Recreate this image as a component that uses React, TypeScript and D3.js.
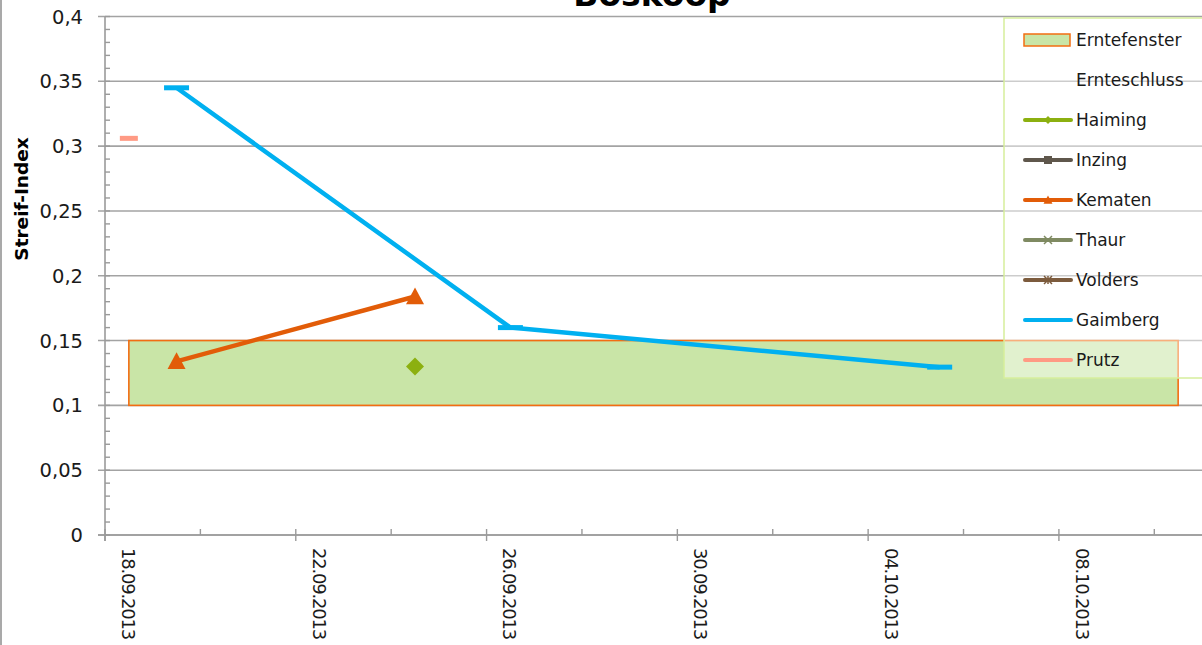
import React from 'react';
import * as d3 from 'd3';

// Streif-Index Boskoop, Excel-Export nachgebaut
const parseDate = d3.timeParse('%d.%m.%Y');
const fmtDate = d3.timeFormat('%d.%m.%Y');

const axisStart = '18.09.2013';
const axisEnd = '11.10.2013';
const yTickValues = [0, 0.05, 0.1, 0.15, 0.2, 0.25, 0.3, 0.35, 0.4];

const ernteFensterDates = ['18.09.2013', '10.10.2013'];
const ernteFensterValues = [0.1, 0.15];

const haimingDates = ['24.09.2013'];
const haimingValues = [0.13];
const inzingDates: string[] = [];
const inzingValues: number[] = [];
const kematenDates = ['19.09.2013', '24.09.2013'];
const kematenValues = [0.134, 0.184];
const thaurDates: string[] = [];
const thaurValues: number[] = [];
const voldersDates: string[] = [];
const voldersValues: number[] = [];
const gaimbergDates = ['19.09.2013', '26.09.2013', '05.10.2013'];
const gaimbergValues = [0.345, 0.16, 0.1295];
const prutzDates = ['18.09.2013'];
const prutzValues = [0.306];

const legendNames = ['Erntefenster', 'Ernteschluss', 'Haiming', 'Inzing', 'Kematen', 'Thaur', 'Volders', 'Gaimberg', 'Prutz'];

const FONT = '"DejaVu Sans", sans-serif';
const W = 1202;
const H = 645;
const left = 105;
const top = 16.5;
const bottom = 535;
const halfDay = 12 * 3600 * 1000;

const series = [
  { name: 'Haiming', dates: haimingDates, values: haimingValues, color: '#8cb010', marker: 'diamond' },
  { name: 'Inzing', dates: inzingDates, values: inzingValues, color: '#5f574c', marker: 'square' },
  { name: 'Kematen', dates: kematenDates, values: kematenValues, color: '#e25c08', marker: 'triangle' },
  { name: 'Thaur', dates: thaurDates, values: thaurValues, color: '#7f8a62', marker: 'x' },
  { name: 'Volders', dates: voldersDates, values: voldersValues, color: '#7c5b3d', marker: 'star' },
  { name: 'Gaimberg', dates: gaimbergDates, values: gaimbergValues, color: '#00b0f0', marker: 'dash' },
  { name: 'Prutz', dates: prutzDates, values: prutzValues, color: '#ff9a84', marker: 'dash' },
];

function Marker({ type, x, y, color, size }: { type: string; x: number; y: number; color: string; size: number }) {
  if (type === 'diamond') {
    const s = size / 2;
    return <path d={`M${x},${y - s}L${x + s},${y}L${x},${y + s}L${x - s},${y}Z`} fill={color} />;
  }
  if (type === 'square') {
    return <rect x={x - size / 2} y={y - size / 2} width={size} height={size} fill={color} />;
  }
  if (type === 'triangle') {
    const s = size / 2;
    return <path d={`M${x},${y - s}L${x + s},${y + s * 0.85}L${x - s},${y + s * 0.85}Z`} fill={color} />;
  }
  if (type === 'x') {
    const s = size / 2;
    return <path d={`M${x - s},${y - s}L${x + s},${y + s}M${x - s},${y + s}L${x + s},${y - s}`} stroke={color} strokeWidth={1.5} />;
  }
  if (type === 'star') {
    const s = size / 2;
    return (
      <path
        d={`M${x - s},${y - s}L${x + s},${y + s}M${x - s},${y + s}L${x + s},${y - s}M${x},${y - s}L${x},${y + s}`}
        stroke={color}
        strokeWidth={1.5}
      />
    );
  }
  return null;
}

export default function App() {
  const x = d3.scaleTime()
    .domain([parseDate(axisStart)!, parseDate(axisEnd)!])
    .range([left, W]);
  const y = d3.scaleLinear().domain([0, 0.4]).range([bottom, top]);

  const xc = (s: string) => x(new Date(parseDate(s)!.getTime() + halfDay));
  const yFmt = (v: number) => d3.format('.2~f')(v).replace('.', ',');

  const start = parseDate(axisStart)!;
  const xTicks = d3.range(0, 23, 2).map((i) => ({ d: d3.timeDay.offset(start, i), major: i % 4 === 0 }));
  const yMinor = d3.range(0, 41).map((i) => i / 100);

  const line = d3.line<[number, number]>().x((d) => d[0]).y((d) => d[1]);

  const legendX = 1004;
  const legendY = 18;
  const rowH = 40;

  return (
    <svg width={W} height={H} style={{ position: 'absolute', left: 0, top: 0 }} fontFamily={FONT}>
      <rect x={0} y={0} width={W} height={H} fill="#ffffff" />
      <line x1={1} x2={1} y1={0} y2={H} stroke="#8c8c8c" strokeWidth={1.5} />

      <text x={652} y={6} textAnchor="middle" fontSize={33} fontWeight="bold" fill="#000">Boskoop</text>

      {/* grid */}
      {yTickValues.map((v) => (
        <line key={'g' + v} x1={98} x2={W} y1={y(v)} y2={y(v)} stroke="#a3a3a3" strokeWidth={1.6} />
      ))}

      {/* Erntefenster */}
      <rect
        x={xc(ernteFensterDates[0])}
        y={y(ernteFensterValues[1])}
        width={xc(ernteFensterDates[1]) - xc(ernteFensterDates[0])}
        height={y(ernteFensterValues[0]) - y(ernteFensterValues[1])}
        fill="#c9e5a7"
        stroke="#f26d12"
        strokeWidth={1.6}
      />

      {/* axes */}
      <line x1={left} x2={left} y1={top} y2={bottom + 6} stroke="#9a9a9a" strokeWidth={1.6} />
      {yMinor.map((v) => (
        <line key={'ym' + v} x1={left} x2={left + 5} y1={y(v)} y2={y(v)} stroke="#9a9a9a" strokeWidth={1.4} />
      ))}
      {yTickValues.map((v) => (
        <text key={'yl' + v} x={83} y={y(v)} dy="0.36em" textAnchor="end" fontSize={19.5} fill="#1a1a1a">
          {yFmt(v)}
        </text>
      ))}
      <text transform={`translate(28,199) rotate(-90)`} textAnchor="middle" fontSize={18.5} fontWeight="bold" fill="#000">
        Streif-Index
      </text>

      <line x1={98} x2={W} y1={bottom} y2={bottom} stroke="#9a9a9a" strokeWidth={1.6} />
      {xTicks.map((t) => (
        <line
          key={'xt' + t.d.getTime()}
          x1={x(t.d)}
          x2={x(t.d)}
          y1={bottom - 6}
          y2={t.major ? bottom + 6 : bottom}
          stroke="#9a9a9a"
          strokeWidth={1.4}
        />
      ))}
      {xTicks.filter((t) => t.major).map((t) => (
        <text
          key={'xl' + t.d.getTime()}
          transform={`translate(${x(new Date(t.d.getTime() + halfDay)) - 7},548) rotate(90)`}
          fontSize={18}
          letterSpacing={-1.2}
          fill="#1a1a1a"
        >
          {fmtDate(t.d)}
        </text>
      ))}

      {/* series */}
      {series.map((s) => {
        const pts = s.dates.map((d, i) => [xc(d), y(s.values[i])] as [number, number]);
        return (
          <g key={s.name}>
            {pts.length > 1 && (
              <path d={line(pts)!} fill="none" stroke={s.color} strokeWidth={4.5} strokeLinejoin="round" />
            )}
            {pts.map((p, i) =>
              s.marker === 'dash' ? (
                <rect
                  key={i}
                  x={p[0] - (s.name === 'Prutz' ? 9 : 12.5)}
                  y={p[1] - 2.5}
                  width={s.name === 'Prutz' ? 18 : 25}
                  height={5}
                  fill={s.color}
                />
              ) : (
                <Marker key={i} type={s.marker} x={p[0]} y={p[1]} color={s.color} size={18} />
              )
            )}
          </g>
        );
      })}

      {/* legend */}
      <rect x={legendX} y={legendY} width={W - legendX + 2} height={360} fill="#ffffff" fillOpacity={0.45} stroke="#d6ee9c" strokeWidth={1.5} />
      {legendNames.map((name, i) => {
        const cy = legendY + 22 + i * rowH;
        const s = series.find((d) => d.name === name);
        return (
          <g key={name}>
            {name === 'Erntefenster' && (
              <rect x={1024} y={cy - 6} width={46} height={12} fill="#c9e5a7" stroke="#f26d12" strokeWidth={1.5} />
            )}
            {s && (
              <>
                <line x1={1025} x2={1071} y1={cy} y2={cy} stroke={s.color} strokeWidth={4} strokeLinecap="round" />
                {s.marker !== 'dash' && <Marker type={s.marker} x={1048} y={cy} color={s.color} size={s.marker === 'triangle' ? 9 : 8} />}
              </>
            )}
            <text x={1076} y={cy} dy="0.36em" fontSize={17} fill="#1a1a1a">{name}</text>
          </g>
        );
      })}
    </svg>
  );
}
